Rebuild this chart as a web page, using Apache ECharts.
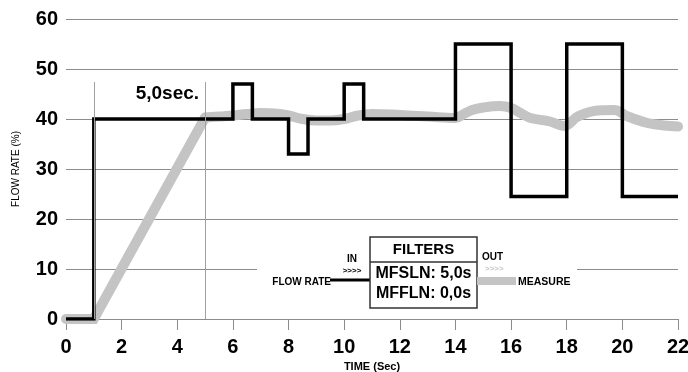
<!DOCTYPE html>
<html>
<head>
<meta charset="utf-8">
<script src="https://cdn.jsdelivr.net/npm/echarts@6/dist/echarts.min.js"></script>
<style>
  html, body { margin: 0; padding: 0; background: #fff; }
  #main { width: 688px; height: 372px; }
</style>
</head>
<body>
<div id="main"></div>
<script>
// setpoint (black step line)
var setTimes  = [0, 1, 6, 6.7, 8, 8.7, 10, 10.7, 14, 16, 18, 20, 22];
var setValues = [0, 40, 47, 40, 33, 40, 47, 40, 55, 24.5, 55, 24.5, 24.5];

// measured flow (grey thick line): ramp part + smooth part
var rampTimes  = [0, 1, 5];
var rampValues = [0, 0, 40.3];
var measTimes  = [5, 5.5, 6, 6.5, 7, 7.5, 8, 8.5, 9, 9.5, 10, 10.5, 11, 12, 13, 14, 14.3, 14.6, 15, 15.6, 16, 16.4, 16.7, 17.4, 17.9, 18.4, 19.1, 19.7, 20.2, 20.9, 21.5, 22];
var measValues = [40.3, 40.5, 40.7, 41, 41.2, 41.1, 40.7, 40, 39.7, 39.7, 40, 40.7, 41, 40.8, 40.5, 40.2, 41, 41.8, 42.3, 42.6, 42.2, 41, 40.2, 39.5, 38.6, 40.5, 41.7, 41.8, 40.5, 39.2, 38.7, 38.5];

// 5,0 sec markers
var markTimes = [1, 5];
var markTop = 47.4;

var xTicks = { min: 0, max: 22, step: 2 };
var yTicks = { min: 0, max: 60, step: 10 };

var FONT = "'Liberation Sans', Arial, sans-serif";
var GREY = '#c4c4c4';

function pairs(xs, ys) {
  return xs.map(function (x, i) { return [x, ys[i]]; });
}

var chart = echarts.init(document.getElementById('main'));

var option = {
  animation: false,
  grid: { left: 66, right: 10, top: 19, bottom: 53, outerBoundsMode: 'none', containLabel: false },
  xAxis: {
    type: 'value',
    min: xTicks.min, max: xTicks.max, interval: xTicks.step,
    name: 'TIME (Sec)',
    nameLocation: 'middle',
    nameGap: 40,
    nameTextStyle: { fontFamily: FONT, fontWeight: 'bold', fontSize: 11, color: '#000' },
    axisLine: { lineStyle: { color: '#8c8c8c', width: 1 } },
    axisTick: { show: true, length: 11, lineStyle: { color: '#8c8c8c' } },
    axisLabel: { fontFamily: FONT, fontWeight: 'bold', fontSize: 20, color: '#000', margin: 18 },
    splitLine: { show: false }
  },
  yAxis: {
    type: 'value',
    min: yTicks.min, max: yTicks.max, interval: yTicks.step,
    name: 'FLOW RATE (%)',
    nameLocation: 'middle',
    nameGap: 45,
    nameTextStyle: { fontFamily: FONT, fontSize: 10, color: '#000' },
    axisLine: { show: false },
    axisTick: { show: false },
    axisLabel: { fontFamily: FONT, fontWeight: 'bold', fontSize: 20, color: '#000', margin: 8 },
    splitLine: { lineStyle: { color: '#8c8c8c', width: 1 } }
  },
  series: [
    {
      type: 'line',
      data: pairs(rampTimes, rampValues),
      symbol: 'none',
      lineStyle: { color: GREY, width: 10, cap: 'round', join: 'miter' },
      z: 2
    },
    {
      type: 'line',
      data: pairs(measTimes, measValues),
      symbol: 'none',
      smooth: 0.4,
      lineStyle: { color: GREY, width: 10, cap: 'round' },
      z: 2
    },
    {
      type: 'line',
      data: pairs(setTimes, setValues),
      step: 'end',
      symbol: 'none',
      lineStyle: { color: '#000', width: 3.5, join: 'miter' },
      z: 4,
      markLine: {
        silent: true,
        symbol: 'none',
        label: { show: false },
        lineStyle: { color: '#a0a0a0', width: 1, type: 'solid' },
        data: markTimes.map(function (t) {
          return [{ coord: [t, markTop] }, { coord: [t, 0] }];
        })
      }
    }
  ]
};
chart.setOption(option);

// annotation + filter diagram
var lblPos = chart.convertToPixel({ gridIndex: 0 }, [markTimes[1], 45]);
var boxX = 370, boxY = 237, boxW = 107, boxH = 71;
chart.setOption({
  graphic: [
    { type: 'text', x: lblPos[0] - 6, y: lblPos[1], z: 10,
      style: { text: '5,0sec.', fontFamily: FONT, fontWeight: 'bold', fontSize: 19, fill: '#000', align: 'right', verticalAlign: 'middle' } },
    { type: 'rect', shape: { x: 257, y: 238, width: 320, height: 70 }, style: { fill: '#fff' }, z: 5 },
    { type: 'text', x: 331, y: 282, z: 10,
      style: { text: 'FLOW RATE', fontFamily: FONT, fontWeight: 'bold', fontSize: 10, fill: '#000', align: 'right', verticalAlign: 'middle' } },
    { type: 'line', shape: { x1: 330, y1: 280, x2: boxX, y2: 280 }, style: { stroke: '#000', lineWidth: 3 }, z: 10 },
    { type: 'text', x: 352, y: 259, z: 10,
      style: { text: 'IN', fontFamily: FONT, fontWeight: 'bold', fontSize: 10, fill: '#000', align: 'center', verticalAlign: 'middle' } },
    { type: 'text', x: 352, y: 271, z: 10,
      style: { text: '>>>>', fontFamily: FONT, fontWeight: 'bold', fontSize: 8, fill: '#000', align: 'center', verticalAlign: 'middle' } },
    { type: 'rect', shape: { x: boxX, y: boxY, width: boxW, height: boxH }, style: { fill: '#fff', stroke: '#333', lineWidth: 1.5 }, z: 10 },
    { type: 'line', shape: { x1: boxX, y1: 262, x2: boxX + boxW, y2: 262 }, style: { stroke: '#333', lineWidth: 1.5 }, z: 11 },
    { type: 'text', x: boxX + boxW / 2, y: 250, z: 12,
      style: { text: 'FILTERS', fontFamily: FONT, fontWeight: 'bold', fontSize: 15, fill: '#000', align: 'center', verticalAlign: 'middle' } },
    { type: 'text', x: boxX + boxW / 2, y: 274, z: 12,
      style: { text: 'MFSLN: 5,0s', fontFamily: FONT, fontWeight: 'bold', fontSize: 16, fill: '#000', align: 'center', verticalAlign: 'middle' } },
    { type: 'text', x: boxX + boxW / 2, y: 294, z: 12,
      style: { text: 'MFFLN: 0,0s', fontFamily: FONT, fontWeight: 'bold', fontSize: 16, fill: '#000', align: 'center', verticalAlign: 'middle' } },
    { type: 'text', x: 482, y: 257, z: 10,
      style: { text: 'OUT', fontFamily: FONT, fontWeight: 'bold', fontSize: 10, fill: '#000', align: 'left', verticalAlign: 'middle' } },
    { type: 'text', x: 485, y: 269, z: 10,
      style: { text: '>>>>', fontFamily: FONT, fontWeight: 'bold', fontSize: 8, fill: '#c8c8c8', align: 'left', verticalAlign: 'middle' } },
    { type: 'rect', shape: { x: boxX + boxW, y: 277, width: 39, height: 8 }, style: { fill: GREY }, z: 10 },
    { type: 'text', x: 518, y: 282, z: 10,
      style: { text: 'MEASURE', fontFamily: FONT, fontWeight: 'bold', fontSize: 10.5, fill: '#000', align: 'left', verticalAlign: 'middle' } }
  ]
});
</script>
</body>
</html>
